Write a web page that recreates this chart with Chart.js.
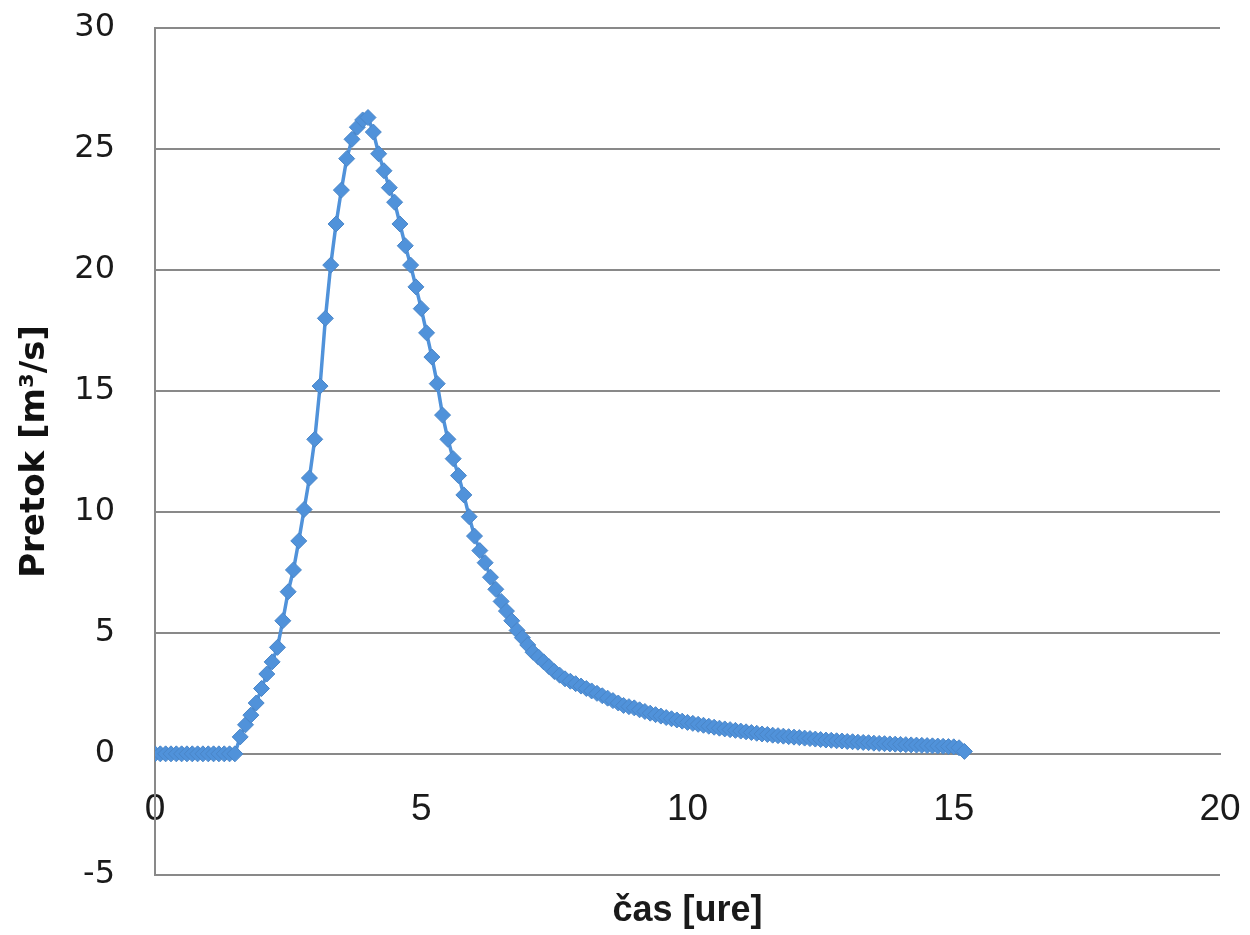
<!DOCTYPE html>
<html>
<head>
<meta charset="utf-8">
<title>Pretok</title>
<script src="https://cdn.jsdelivr.net/npm/chart.js@4"></script>
<style>
  body { margin: 0; background: #fff; }
  #wrap { width: 1250px; height: 935px; }
</style>
</head>
<body>
<div id="wrap"><canvas id="graf" width="1250" height="935"></canvas></div>
<script>
// cas v urah
const cas = [
  0.0, 0.1, 0.2, 0.3, 0.4, 0.5, 0.6, 0.7, 0.8, 0.9,
  1.0, 1.1, 1.2, 1.3, 1.4, 1.5, 1.6, 1.7, 1.8, 1.9,
  2.0, 2.1, 2.2, 2.3, 2.4, 2.5, 2.6, 2.7, 2.8, 2.9,
  3.0, 3.1, 3.2, 3.3, 3.4, 3.5, 3.6, 3.7, 3.8, 3.9,
  4.0, 4.1, 4.2, 4.3, 4.4, 4.5, 4.6, 4.7, 4.8, 4.9,
  5.0, 5.1, 5.2, 5.3, 5.4, 5.5, 5.6, 5.7, 5.8, 5.9,
  6.0, 6.1, 6.2, 6.3, 6.4, 6.5, 6.6, 6.7, 6.8, 6.9,
  7.0, 7.1, 7.2, 7.3, 7.4, 7.5, 7.6, 7.7, 7.8, 7.9,
  8.0, 8.1, 8.2, 8.3, 8.4, 8.5, 8.6, 8.7, 8.8, 8.9,
  9.0, 9.1, 9.2, 9.3, 9.4, 9.5, 9.6, 9.7, 9.8, 9.9,
  10.0, 10.1, 10.2, 10.3, 10.4, 10.5, 10.6, 10.7, 10.8, 10.9,
  11.0, 11.1, 11.2, 11.3, 11.4, 11.5, 11.6, 11.7, 11.8, 11.9,
  12.0, 12.1, 12.2, 12.3, 12.4, 12.5, 12.6, 12.7, 12.8, 12.9,
  13.0, 13.1, 13.2, 13.3, 13.4, 13.5, 13.6, 13.7, 13.8, 13.9,
  14.0, 14.1, 14.2, 14.3, 14.4, 14.5, 14.6, 14.7, 14.8, 14.9,
  15.0, 15.1, 15.2
];

// pretok v m3/s
const pretok = [
  0, 0, 0, 0, 0, 0, 0, 0, 0, 0,
  0, 0, 0, 0, 0, 0, 0.7, 1.2, 1.6, 2.1,
  2.7, 3.3, 3.8, 4.4, 5.5, 6.7, 7.6, 8.8, 10.1, 11.4,
  13.0, 15.2, 18.0, 20.2, 21.9, 23.3, 24.6, 25.4, 25.9, 26.2,
  26.3, 25.7, 24.8, 24.1, 23.4, 22.8, 21.9, 21.0, 20.2, 19.3,
  18.4, 17.4, 16.4, 15.3, 14.0, 13.0, 12.2, 11.5, 10.7, 9.8,
  9.0, 8.4, 7.9, 7.3, 6.8, 6.3, 5.9, 5.5, 5.1, 4.8,
  4.5, 4.2, 4.0, 3.8, 3.6, 3.4, 3.25, 3.1, 3.0, 2.9,
  2.8, 2.7, 2.6, 2.5, 2.4, 2.3, 2.2, 2.1, 2.0, 1.95,
  1.9, 1.82, 1.75, 1.68, 1.62, 1.56, 1.5, 1.45, 1.4, 1.35,
  1.3, 1.26, 1.22, 1.18, 1.14, 1.1, 1.06, 1.03, 1.0, 0.97,
  0.94, 0.91, 0.88, 0.85, 0.82, 0.8, 0.77, 0.75, 0.73, 0.71,
  0.69, 0.67, 0.65, 0.63, 0.61, 0.59, 0.57, 0.56, 0.54, 0.53,
  0.51, 0.5, 0.48, 0.47, 0.46, 0.44, 0.43, 0.42, 0.41, 0.4,
  0.39, 0.38, 0.37, 0.36, 0.35, 0.34, 0.33, 0.32, 0.31, 0.3,
  0.29, 0.25, 0.1
];

const xOs = { min: 0, max: 20, korak: 5 };
const yOs = { min: -5, max: 30, korak: 5 };

const naslovX = 'čas [ure]';
const naslovY = 'Pretok [m³/s]';

const modra = '#5092DA';
const siva = '#898989';

const tocke = cas.map((t, i) => ({ x: t, y: pretok[i] }));

new Chart(document.getElementById('graf'), {
  type: 'scatter',
  data: {
    datasets: [{
      label: 'Pretok',
      data: tocke,
      showLine: true,
      borderColor: modra,
      borderWidth: 3.5,
      backgroundColor: modra,
      pointStyle: 'rectRot',
      pointRadius: 8,
      pointBorderColor: '#4A86C8',
      pointBorderWidth: 1,
      tension: 0
    }]
  },
  options: {
    responsive: false,
    animation: false,
    devicePixelRatio: 1,
    layout: { padding: { top: 28, right: 30, left: 0, bottom: 0 } },
    plugins: {
      legend: { display: false },
      tooltip: { enabled: false },
      title: {
        display: true,
        position: 'bottom',
        fullSize: false,
        text: naslovX,
        color: '#1a1a1a',
        font: { family: 'Liberation Sans', size: 36, weight: 'bold' },
        padding: { top: 15, bottom: 2 }
      }
    },
    scales: {
      x: {
        type: 'linear',
        position: { y: 0 },
        min: xOs.min,
        max: xOs.max,
        grid: { display: false, drawTicks: false },
        border: { display: true, color: siva, width: 2 },
        ticks: {
          stepSize: xOs.korak,
          padding: 34,
          color: '#1a1a1a',
          font: { family: 'Liberation Sans', size: 37 }
        },
        afterFit(scale) {
          scale.paddingLeft = 0;
          scale.paddingRight = 0;
        }
      },
      y: {
        type: 'linear',
        position: 'left',
        min: yOs.min,
        max: yOs.max,
        grid: { color: siva, lineWidth: 2, drawTicks: false },
        border: { display: true, color: siva, width: 2 },
        ticks: {
          stepSize: yOs.korak,
          padding: 40,
          color: '#1a1a1a',
          font: { family: 'DejaVu Sans', size: 32 }
        },
        title: {
          display: true,
          text: naslovY,
          color: '#111',
          font: { family: 'DejaVu Sans', size: 34, weight: 'bold' },
          padding: { top: 15, bottom: 0 }
        },
        afterFit(scale) {
          scale.width = 155;
          scale.paddingTop = 0;
          scale.paddingBottom = 0;
        }
      }
    }
  }
});
</script>
</body>
</html>
